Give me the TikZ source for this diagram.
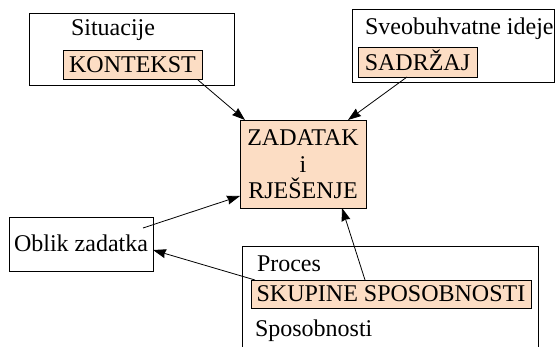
\documentclass[tikz,border=0pt]{standalone}
\usepackage{fontspec}
\setmainfont{Liberation Serif}
\usetikzlibrary{arrows.meta,calc}
\definecolor{peach}{RGB}{252,221,196}
\begin{document}
\begin{tikzpicture}[x=1pt,y=-1pt,
  every node/.style={font=\fontsize{24}{27}\selectfont, inner sep=0pt, outer sep=0pt},
  outerbox/.style={draw, line width=0.8pt, anchor=north west},
  hibox/.style={draw, line width=0.8pt, fill=peach, anchor=north west},
  lbl/.style={anchor=base west},
  conn/.style={line width=0.8pt, -{Stealth[length=13pt,width=9pt,inset=1pt]}}]
\useasboundingbox (0,0) rectangle (555,347);
% Situacije
\node[outerbox, minimum width=205pt, minimum height=72pt] (sit) at (29,13) {};
\node[lbl] (sitt) at (71,36) {Situacije};
\node[hibox, minimum width=139pt, minimum height=29pt] (kon) at (63,50) {};
\node[anchor=base] at ($(kon.south)+(0,-6)$) {KONTEKST};
% Sveobuhvatne ideje
\node[outerbox, minimum width=202pt, minimum height=73pt] (sve) at (352,9) {};
\node[lbl] (svet) at (365,35) {Sveobuhvatne ideje};
\node[hibox, minimum width=119pt, minimum height=30pt] (sad) at (358,47) {};
\node[anchor=base] at ($(sad.south)+(0,-6)$) {SADRŽAJ};
% Centre
\node[hibox, minimum width=126pt, minimum height=88pt] (ctr) at (240,120) {};
\node[anchor=base] at (303,146) {ZADATAK};
\node[anchor=base] at (303,173) {i};
\node[anchor=base] at (303,199) {RJEŠENJE};
% Oblik zadatka
\node[outerbox, minimum width=144pt, minimum height=54pt] (obl) at (9,217) {};
\node[anchor=base] at ($(obl.south)+(0,-19)$) {Oblik zadatka};
% Proces
\coordinate (pbl) at (242,350);
\coordinate (ptl) at (242,246);
\coordinate (ptr) at (538,246);
\coordinate (pbr) at (538,350);
\draw[line width=0.8pt] (pbl) -- (ptl) -- (ptr) -- (pbr);
\node[lbl] (proc) at (257,272) {Proces};
\node[hibox, minimum width=280pt, minimum height=28pt] (sk) at (251,280) {};
\node[anchor=base] at ($(sk.south)+(0,-6)$) {SKUPINE SPOSOBNOSTI};
\node[lbl] (spos) at (255,337) {Sposobnosti};
% Connectors
\draw[conn] ($(kon.south east)+(-4,1)$) -- ($(ctr.north west)+(5,0)$);
\draw[conn] ($(sad.south west)+(49,0)$) -- ($(ctr.north east)+(-18,0)$);
\draw[conn] ($(obl.north east)+(-10,11)$) -- ($(ctr.south west)+(0,-12)$);
\draw[conn] ($(sk.north west)+(4,0)$) -- ($(obl.east)+(0,6)$);
\draw[conn] ($(sk.north west)+(114,0)$) -- ($(ctr.south east)+(-24,0)$);
\end{tikzpicture}
\end{document}
